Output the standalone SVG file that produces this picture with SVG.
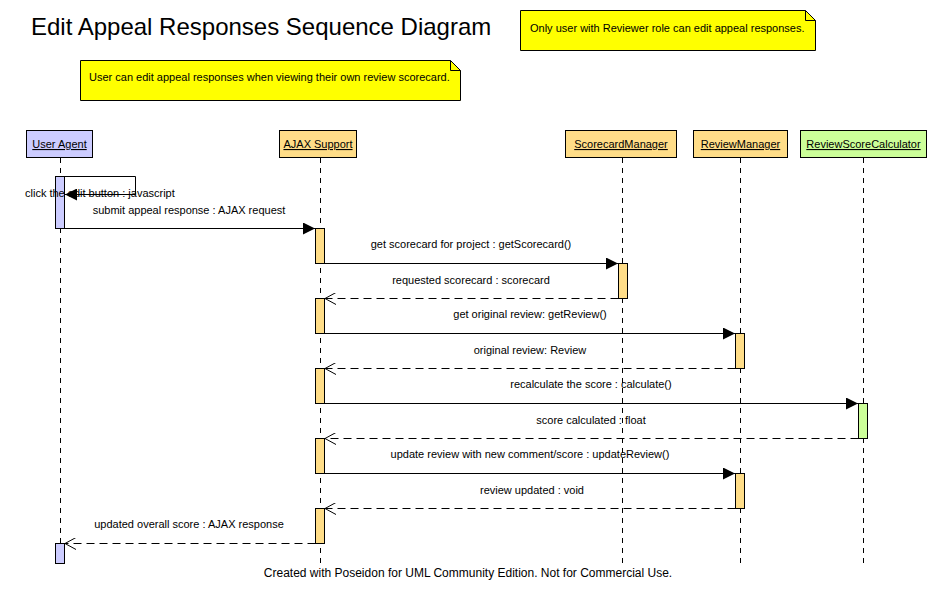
<svg xmlns="http://www.w3.org/2000/svg" width="937" height="598" viewBox="0 0 937 598">
<style>
text{font-family:"Liberation Sans",Arial,sans-serif;font-size:11px;fill:#000}
.title{font-size:24px}
.foot{font-size:12px}
.head{stroke:#000;stroke-width:1}
.hl{text-anchor:middle;text-decoration:underline}
.life{stroke:#000;stroke-width:1;stroke-dasharray:5,5;fill:none}
.bar{stroke:#000;stroke-width:1}
.msg{stroke:#000;stroke-width:1;fill:none}
.ret{stroke:#000;stroke-width:1;fill:none;stroke-dasharray:8,5}
.lbl{text-anchor:middle}
.note{fill:#ffff00;stroke:#000;stroke-width:1}
.ua{fill:#ccccff}.aj{fill:#ffdd88}.gr{fill:#ccff99}
</style>
<defs>
<marker id="filled" markerWidth="13" markerHeight="12" refX="12" refY="6" orient="auto" markerUnits="userSpaceOnUse">
<path d="M0,0 L12,6 L0,12 Z" fill="#000"/>
</marker>
<marker id="open" markerWidth="12" markerHeight="12" refX="11" refY="6" orient="auto" markerUnits="userSpaceOnUse">
<path d="M0,0 L11,6 L0,12" fill="none" stroke="#000" stroke-width="1"/>
</marker>
</defs>
<rect width="937" height="598" fill="#fff"/>
<text class="title" x="31" y="35">Edit Appeal Responses Sequence Diagram</text>
<g id="note-reviewer">
<path class="note" d="M520.5,10.5 H805.5 L815.5,20.5 V50.5 H520.5 Z"/>
<path d="M805.5,10.5 V20.5 H815.5" fill="none" stroke="#000"/>
<text x="530" y="32">Only user with Reviewer role can edit appeal responses.</text>
</g>
<g id="note-user">
<path class="note" d="M80.5,60.5 H450.5 L460.5,70.5 V100.5 H80.5 Z"/>
<path d="M450.5,60.5 V70.5 H460.5" fill="none" stroke="#000"/>
<text x="89" y="81">User can edit appeal responses when viewing their own review scorecard.</text>
</g>
<g id="lifelines">
<line class="life" x1="60.5" y1="158" x2="60.5" y2="563"/>
<line class="life" x1="320.5" y1="158" x2="320.5" y2="563"/>
<line class="life" x1="622.5" y1="158" x2="622.5" y2="563"/>
<line class="life" x1="740.5" y1="158" x2="740.5" y2="563"/>
<line class="life" x1="863.5" y1="158" x2="863.5" y2="563"/>
</g>
<g id="user-agent">
<rect class="head ua" x="26.5" y="130.5" width="66" height="27"/>
<text class="hl" x="59.5" y="148">User Agent</text>
<rect class="bar ua" x="55.5" y="176.5" width="9" height="52"/>
<rect class="bar ua" x="55.5" y="543.5" width="9" height="20"/>
</g>
<g id="ajax-support">
<rect class="head aj" x="279.5" y="130.5" width="77" height="27"/>
<text class="hl" x="318" y="148">AJAX Support</text>
<rect class="bar aj" x="315.5" y="228.5" width="9" height="35"/>
<rect class="bar aj" x="315.5" y="298.5" width="9" height="35"/>
<rect class="bar aj" x="315.5" y="368.5" width="9" height="35"/>
<rect class="bar aj" x="315.5" y="438.5" width="9" height="35"/>
<rect class="bar aj" x="315.5" y="508.5" width="9" height="35"/>
</g>
<g id="scorecard-manager">
<rect class="head aj" x="565.5" y="130.5" width="111" height="27"/>
<text class="hl" x="621" y="148">ScorecardManager</text>
<rect class="bar aj" x="618.5" y="263.5" width="9" height="35"/>
</g>
<g id="review-manager">
<rect class="head aj" x="693.5" y="130.5" width="94" height="27"/>
<text class="hl" x="740.5" y="148">ReviewManager</text>
<rect class="bar aj" x="735.5" y="333.5" width="9" height="35"/>
<rect class="bar aj" x="735.5" y="473.5" width="9" height="35"/>
</g>
<g id="review-score-calculator">
<rect class="head gr" x="800.5" y="130.5" width="126" height="27"/>
<text class="hl" x="863.5" y="148">ReviewScoreCalculator</text>
<rect class="bar gr" x="858.5" y="403.5" width="9" height="35"/>
</g>
<g id="connectors">
<path class="msg" d="M64.5,176.5 H135.5 V194.5 H65" marker-end="url(#filled)"/>
<text x="25" y="197">click the edit button : javascript</text>
<line class="msg" x1="64.5" y1="228.5" x2="315" y2="228.5" marker-end="url(#filled)"/>
<text class="lbl" x="189" y="214">submit appeal response : AJAX request</text>
<line class="msg" x1="324.5" y1="263.5" x2="618" y2="263.5" marker-end="url(#filled)"/>
<text class="lbl" x="471" y="248">get scorecard for project : getScorecard()</text>
<line class="ret" x1="618.5" y1="298.5" x2="325" y2="298.5" marker-end="url(#open)"/>
<text class="lbl" x="471" y="284">requested scorecard : scorecard</text>
<line class="msg" x1="324.5" y1="333.5" x2="735" y2="333.5" marker-end="url(#filled)"/>
<text class="lbl" x="530" y="318">get original review: getReview()</text>
<line class="ret" x1="735.5" y1="368.5" x2="325" y2="368.5" marker-end="url(#open)"/>
<text class="lbl" x="530" y="354">original review: Review</text>
<line class="msg" x1="324.5" y1="403.5" x2="858" y2="403.5" marker-end="url(#filled)"/>
<text class="lbl" x="591" y="388">recalculate the score : calculate()</text>
<line class="ret" x1="858.5" y1="438.5" x2="325" y2="438.5" marker-end="url(#open)"/>
<text class="lbl" x="591" y="424">score calculated : float</text>
<line class="msg" x1="324.5" y1="473.5" x2="735" y2="473.5" marker-end="url(#filled)"/>
<text class="lbl" x="530" y="458">update review with new comment/score : updateReview()</text>
<line class="ret" x1="735.5" y1="508.5" x2="325" y2="508.5" marker-end="url(#open)"/>
<text class="lbl" x="532" y="494">review updated : void</text>
<line class="ret" x1="315.5" y1="543.5" x2="65" y2="543.5" marker-end="url(#open)"/>
<text class="lbl" x="189" y="528">updated overall score : AJAX response</text>
</g>
<text class="lbl foot" x="468" y="577">Created with Poseidon for UML Community Edition. Not for Commercial Use.</text>
</svg>
